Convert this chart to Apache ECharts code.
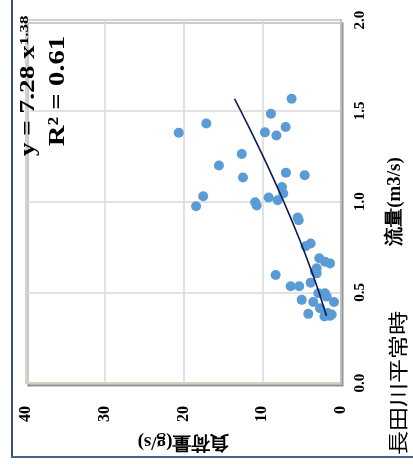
<!DOCTYPE html>
<html>
<head>
<meta charset="utf-8">
<script src="https://cdn.jsdelivr.net/npm/echarts@6/dist/echarts.min.js"></script>
<style>
html,body{margin:0;padding:0;background:#fff;}
#chart{width:413px;height:466px;}
</style>
</head>
<body>
<div id="chart"></div>
<script>
// Data: load (g/s) and flow (m3/s)
var loadValues = [6.27, 8.9, 17.1, 20.6, 7.03, 9.66, 8.2, 12.6, 15.5, 12.45, 6.99, 4.61, 7.5, 7.33, 9.19, 8.04, 17.5, 18.4, 10.9, 10.7,
  5.5, 5.37, 3.85, 4.49, 2.76, 2.03, 1.4, 3.09, 3.3, 3.09, 8.3, 6.39, 5.3, 3.85, 2.88, 2.03, 1.82, 4.99, 3.52, 0.89,
  2.67, 4.15, 1.69, 1.18, 1.4, 2.1];
var flowValues = [1.566, 1.483, 1.430, 1.379, 1.410, 1.381, 1.364, 1.262, 1.198, 1.132, 1.159, 1.145, 1.080, 1.044, 1.022, 1.007, 1.029, 0.974, 0.996, 0.978,
  0.912, 0.897, 0.769, 0.754, 0.687, 0.668, 0.659, 0.632, 0.613, 0.604, 0.595, 0.533, 0.533, 0.553, 0.494, 0.494, 0.476, 0.458, 0.446, 0.446,
  0.412, 0.381, 0.385, 0.377, 0.370, 0.367];
// Power trend line y = 7.28 x^1.38 (flow -> load)
var trendFlow = [0.37, 0.4, 0.5, 0.6, 0.7, 0.8, 0.9, 1.0, 1.1, 1.2, 1.3, 1.4, 1.5, 1.566];
var trendLoad = [1.846, 2.056, 2.797, 3.598, 4.450, 5.351, 6.295, 7.28, 8.304, 9.363, 10.456, 11.582, 12.739, 13.52];
var loadTicks = [0, 10, 20, 30, 40];
var flowTicks = [0.0, 0.5, 1.0, 1.5, 2.0];
var chartTitle = '長田川平常時';
var xName = '流量(m3/s)';
var yName = '負荷量(g/s)';
var eqLine1 = 'y = 7.28 x';
var eqExp = '1.38';
var eqLine2 = 'R² = 0.61';

var scatterData = loadValues.map(function (v, i) { return [v, flowValues[i]]; });
var trendData = trendLoad.map(function (v, i) { return [v, trendFlow[i]]; });

var serif = '"Liberation Serif", "DejaVu Serif", serif';
var chart = echarts.init(document.getElementById('chart'), null, {renderer: 'canvas'});
chart.setOption({
  backgroundColor: '#ffffff',
  animation: false,
  grid: {
    left: 26, right: 71, top: 20, bottom: 83,
    show: true, backgroundColor: '#ffffff', borderColor: '#92C46C', borderWidth: 1.5,
    shadowColor: 'rgba(0,0,0,0.28)', shadowBlur: 0, shadowOffsetX: 2, shadowOffsetY: 3
  },
  xAxis: {
    type: 'value', min: loadTicks[0], max: loadTicks[loadTicks.length - 1], interval: 10,
    inverse: true, position: 'bottom',
    name: yName, nameLocation: 'middle', nameRotate: 180, nameGap: 49,
    nameTextStyle: {fontFamily: serif, fontWeight: 'bold', fontSize: 19, color: '#000'},
    axisLine: {show: false},
    axisTick: {show: false},
    splitLine: {show: true, lineStyle: {color: '#D9D9D9', width: 1.5}},
    axisLabel: {rotate: 90, margin: 23, fontFamily: serif, fontWeight: 'bold', fontSize: 16, color: '#000'}
  },
  yAxis: {
    type: 'value', min: flowTicks[0], max: flowTicks[flowTicks.length - 1], interval: 0.5,
    position: 'right',
    name: xName, nameLocation: 'middle', nameRotate: 90, nameGap: 45,
    nameTextStyle: {fontFamily: serif, fontWeight: 'bold', fontSize: 19, color: '#000'},
    axisLine: {show: true, onZero: false, lineStyle: {color: '#BFBFBF', width: 2}},
    axisTick: {show: false},
    splitLine: {show: true, lineStyle: {color: '#D9D9D9', width: 1.5}},
    axisLabel: {rotate: 90, margin: 12, fontFamily: serif, fontWeight: 'bold', fontSize: 15, color: '#000',
      formatter: function (v) { return v.toFixed(1); }}
  },
  series: [
    {
      type: 'scatter', data: scatterData, symbol: 'circle', symbolSize: 10,
      itemStyle: {color: '#5B9BD5', opacity: 1}, z: 2
    },
    {
      type: 'line', data: trendData, showSymbol: false, symbol: 'none',
      lineStyle: {color: '#0B1A55', width: 1.6}, z: 3
    }
  ],
  graphic: [
    {type: 'line', shape: {x1: 12, y1: 0, x2: 12, y2: 457}, style: {stroke: '#3A4D7E', lineWidth: 2}},
    {type: 'line', shape: {x1: 11, y1: 457, x2: 413, y2: 457}, style: {stroke: '#4A6090', lineWidth: 2}},
    {type: 'text', x: 398, y: 383, rotation: Math.PI / 2, scaleX: 1.2,
      style: {text: chartTitle, fontFamily: '"Noto Sans CJK JP", sans-serif', fontSize: 20, fill: '#000',
        align: 'center', verticalAlign: 'middle'}},
    {type: 'text', x: 29, y: 86, rotation: Math.PI / 2, scaleX: 1.3, z: 100,
      style: {text: '{m|' + eqLine1 + '}{s|' + eqExp + '}', align: 'center', verticalAlign: 'middle', fill: '#000',
        rich: {
          m: {fontFamily: serif, fontWeight: 'bold', fontSize: 21, fill: '#000'},
          s: {fontFamily: serif, fontWeight: 'bold', fontSize: 13, fill: '#000', verticalAlign: 'top', padding: [0, 0, 8, 0]}
        }}},
    {type: 'text', x: 58, y: 91, rotation: Math.PI / 2, scaleX: 1.25, z: 100,
      style: {text: eqLine2, fontFamily: serif, fontWeight: 'bold', fontSize: 23, fill: '#000',
        align: 'center', verticalAlign: 'middle'}}
  ]
});
</script>
</body>
</html>
